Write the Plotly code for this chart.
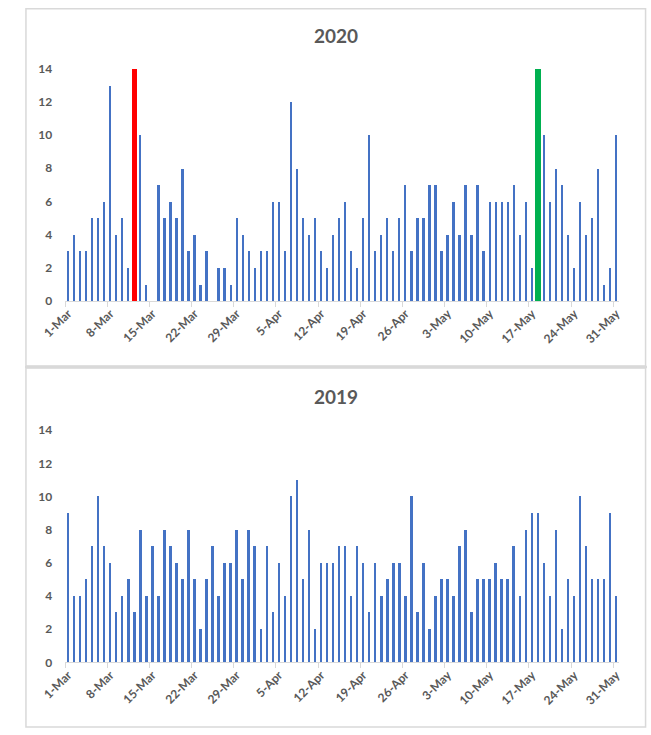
import plotly.graph_objects as go

# ---- data ----
day_index = list(range(1, 93))  # 1-Mar .. 31-May
tick_days = [1, 8, 15, 22, 29, 36, 43, 50, 57, 64, 71, 78, 85, 92]
tick_labels = ["1-Mar", "8-Mar", "15-Mar", "22-Mar", "29-Mar", "5-Apr", "12-Apr",
               "19-Apr", "26-Apr", "3-May", "10-May", "17-May", "24-May", "31-May"]

values_2020 = [3, 4, 3, 3, 5, 5, 6, 13, 4, 5, 2, 14, 10, 1, 0, 7, 5, 6, 5, 8, 3, 4, 1, 3, 0, 2, 2, 1, 5, 4,
               3, 2, 3, 3, 6, 6, 3, 12, 8, 5, 4, 5, 3, 2, 4, 5, 6, 3, 2, 5, 10, 3, 4, 5, 3, 5, 7, 3,
               5, 5, 7, 7, 3, 4, 6, 4, 7, 4, 7, 3, 6, 6, 6, 6, 7, 4, 6, 2, 14, 10, 6, 8, 7, 4, 2, 6, 4, 5, 8, 1, 2, 10]
values_2019 = [9, 4, 4, 5, 7, 10, 7, 6, 3, 4, 5, 3, 8, 4, 7, 4, 8, 7, 6, 5, 8, 5, 2, 5, 7, 4, 6, 6, 8, 5,
               8, 7, 2, 7, 3, 6, 4, 10, 11, 5, 8, 2, 6, 6, 6, 7, 7, 4, 7, 6, 3, 6, 4, 5, 6, 6, 4, 10, 3, 6,
               2, 4, 5, 5, 4, 7, 8, 3, 5, 5, 5, 6, 5, 5, 7, 4, 8, 9, 9, 6, 4, 8, 2, 5, 4, 10, 7, 5, 5, 5, 9, 4]
highlight_2020 = {12: "#FF0000", 79: "#00B050"}  # 12-Mar red, 18-May green

BLUE = "#4472C4"
GRAY_TXT = "#595959"
FONT = "Lato"

W, H = 651, 735

colors_2020 = [highlight_2020.get(d, BLUE) for d in day_index]
widths_2020 = [0.88 if d in highlight_2020 else 0.38 for d in day_index]

fig = go.Figure()
fig.add_trace(go.Bar(x=day_index, y=values_2020, marker=dict(color=colors_2020, line=dict(width=0)),
                     width=widths_2020, xaxis="x", yaxis="y", showlegend=False))
fig.add_trace(go.Bar(x=day_index, y=values_2019, marker=dict(color=BLUE, line=dict(width=0)),
                     width=0.42, xaxis="x2", yaxis="y2", showlegend=False))

def py(px):
    return 1 - px / H

xdom = [42 / W, 622 / W]

xcommon = dict(
    range=[0.5, 92.5], tickmode="array", tickvals=tick_days, ticktext=tick_labels,
    tickangle=-45, ticks="", showgrid=False, zeroline=False,
    showline=True, linecolor="#D9D9D9", linewidth=1,
    tickfont=dict(family=FONT, size=12, color=GRAY_TXT, weight="bold"),
    minor=dict(tick0=0.5, dtick=7, ticks="outside", ticklen=5, tickcolor="#D9D9D9", showgrid=False),
    domain=xdom, fixedrange=True,
)
ycommon = dict(
    range=[0, 14], tickmode="array", tickvals=[0, 2, 4, 6, 8, 10, 12, 14],
    showgrid=False, zeroline=False, showline=False, ticks="",
    ticklabelstandoff=12,
    tickfont=dict(family=FONT, size=12, color=GRAY_TXT, weight="bold"),
)

fig.update_layout(
    width=W, height=H, margin=dict(l=0, r=0, t=0, b=0),
    paper_bgcolor="white", plot_bgcolor="white",
    xaxis=dict(**xcommon, anchor="y"),
    yaxis=dict(**ycommon, domain=[py(299), py(62)], anchor="x"),
    xaxis2=dict(**xcommon, anchor="y2"),
    yaxis2=dict(**ycommon, domain=[py(668), py(431)], anchor="x2"),
    bargap=0,
    annotations=[
        dict(text="2020", x=0.5, y=py(28), xref="paper", yref="paper", showarrow=False,
             xanchor="center", yanchor="middle",
             font=dict(family=FONT, size=19, color=GRAY_TXT, weight="bold")),
        dict(text="2019", x=0.5, y=py(397), xref="paper", yref="paper", showarrow=False,
             xanchor="center", yanchor="middle",
             font=dict(family=FONT, size=19, color=GRAY_TXT, weight="bold")),
    ],
    shapes=[
        dict(type="rect", xref="paper", yref="paper", x0=1 / W, x1=649.5 / W, y0=py(365.5), y1=py(0.8),
             line=dict(color="#D9D9D9", width=1.5)),
        dict(type="rect", xref="paper", yref="paper", x0=1 / W, x1=649.5 / W, y0=py(734), y1=py(367.5),
             line=dict(color="#D9D9D9", width=1.5)),
        dict(type="line", xref="paper", yref="paper", x0=0, x1=1, y0=py(366.5), y1=py(366.5),
             line=dict(color="#D9D9D9", width=2.5)),
    ],
)

post = """
document.documentElement.style.margin='0';
document.body.style.margin='0';
document.body.style.overflow='hidden';
"""

fig.write_html(
    "out.html",
    config={"displayModeBar": False},
    post_script=post,
)
